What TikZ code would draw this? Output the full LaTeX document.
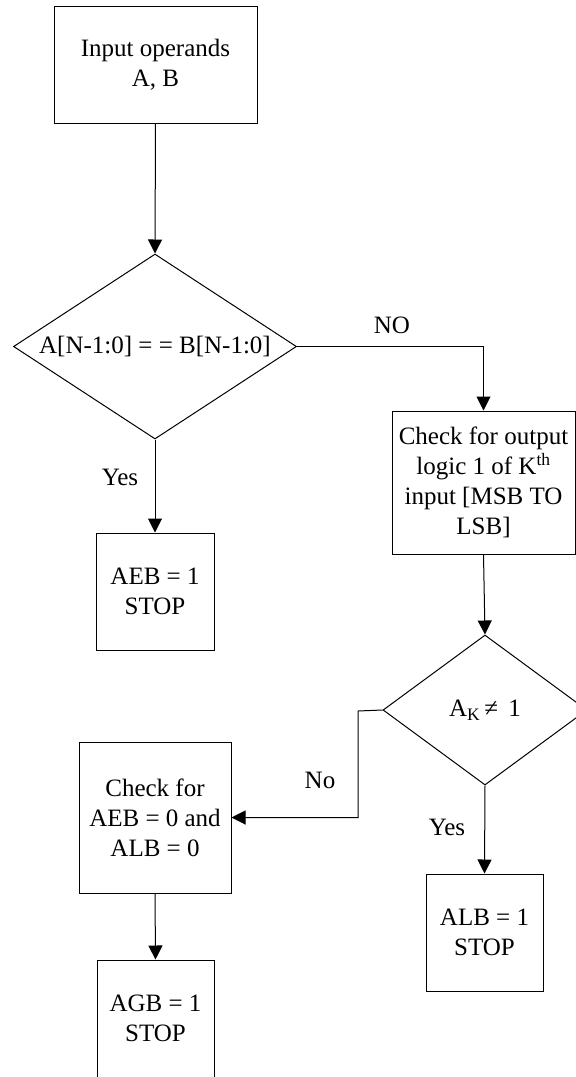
\documentclass[tikz,border=0pt]{standalone}
\usepackage{fontspec}
\setmainfont{Liberation Serif}
\usetikzlibrary{shapes.geometric,arrows.meta}
\begin{document}
\begin{tikzpicture}[x=1pt,y=-1pt,
  every node/.style={font=\fontsize{25}{30}\selectfont, inner sep=0pt},
  stepbox/.style={draw, line width=1pt, align=center, rectangle},
  decision/.style={draw, line width=1pt, diamond, aspect=1.5, align=center},
  conn/.style={draw, line width=1pt, -{Triangle[length=14pt,width=14pt]}},
  lbl/.style={anchor=center}]
\clip (0,0) rectangle (576,1077);
\node[stepbox, minimum width=203pt, minimum height=117pt] (in) at (155.5,64.5) {Input operands\\A, B};
\node[decision, minimum width=283pt, minimum height=185pt] (d1) at (155,346.5) {A[N-1:0] = = B[N-1:0]};
\node[stepbox, minimum width=118pt, minimum height=117pt] (aeb) at (155,591.5) {AEB = 1\\STOP};
\node[stepbox, minimum width=183pt, minimum height=143pt] (chk) at (483.5,482.5) {Check for output\\logic 1 of K\textsuperscript{th}\\input [MSB TO\\LSB]};
\node[decision, aspect=1.36, minimum width=204pt, minimum height=150pt] (d2) at (485,710) {A\textsubscript{K}\,≠\, 1};
\node[stepbox, minimum width=117pt, minimum height=117pt] (alb) at (484.5,932.5) {ALB = 1\\STOP};
\node[stepbox, minimum width=152pt, minimum height=151pt] (cz) at (155,817.5) {Check for\\AEB = 0 and\\ALB = 0};
\node[stepbox, minimum width=117pt, minimum height=117pt] (agb) at (155.5,1018.5) {AGB = 1\\STOP};
\coordinate (bend) at (358,711);
\draw[conn] (in.south) -- (d1.north);
\draw[conn] (d1.east) -| (chk.north);
\draw[conn] (d1.south) -- (aeb.north);
\draw[conn] (chk.south) -- (d2.north);
\draw[conn] (d2.west) -- (bend) |- (cz.east);
\draw[conn] (d2.south) -- (alb.north);
\draw[conn] (cz.south) -- (agb.north);
\node[lbl] (lno1) at (392,325) {NO};
\node[lbl] (lyes1) at (120,477) {Yes};
\node[lbl] (lno2) at (320,780) {No};
\node[lbl] (lyes2) at (447,827) {Yes};
\end{tikzpicture}
\end{document}
